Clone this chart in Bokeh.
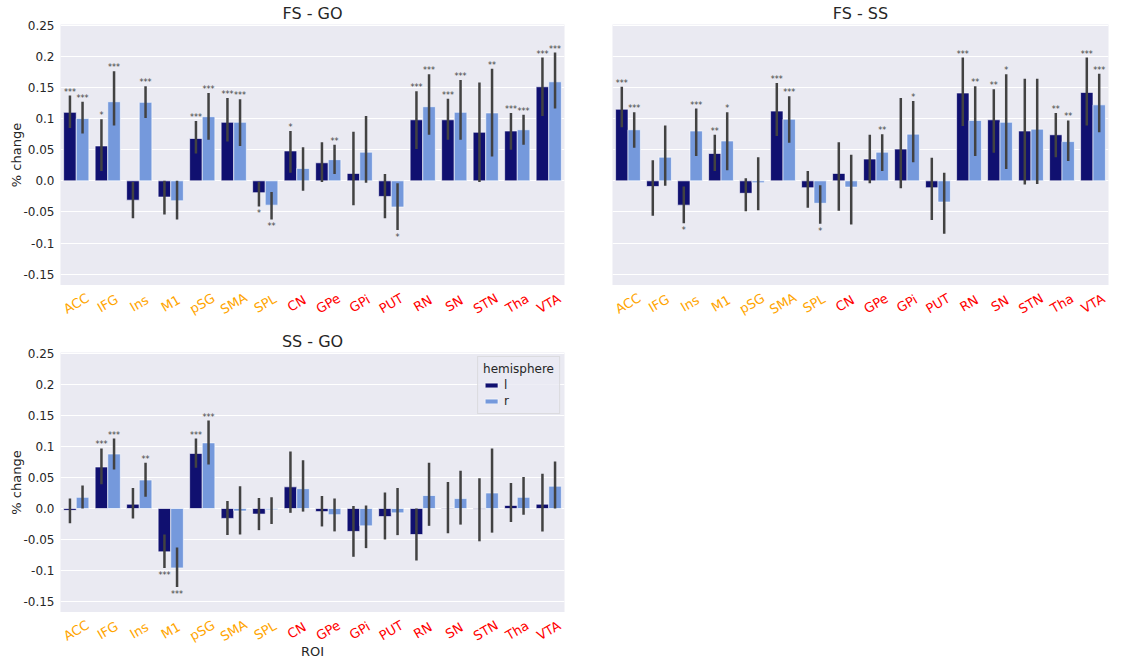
from bokeh.plotting import figure
from bokeh.models import (ColumnDataSource, FactorRange, Range1d, FixedTicker, Label,
                          Legend, LegendItem)
from bokeh.transform import dodge
from bokeh.layouts import column, row
from bokeh.embed import file_html
from bokeh.resources import INLINE
from bokeh.core.properties import value

# ---------------- data ----------------
rois = ["ACC", "IFG", "Ins", "M1", "pSG", "SMA", "SPL", "CN", "GPe", "GPi", "PUT",
        "RN", "SN", "STN", "Tha", "VTA"]
cortical = ["ACC", "IFG", "Ins", "M1", "pSG", "SMA", "SPL"]
hemispheres = ["l", "r"]

y_ticks = [-0.15, -0.1, -0.05, 0.0, 0.05, 0.1, 0.15, 0.2, 0.25]
y_tick_labels = ["-0.15", "-0.1", "-0.05", "0.0", "0.05", "0.1", "0.15", "0.2", "0.25"]

# FS - GO
fsgo_l = [0.110, 0.056, -0.031, -0.026, 0.068, 0.094, -0.019, 0.048, 0.029, 0.012, -0.025, 0.098, 0.098, 0.078, 0.080, 0.151]
fsgo_l_lo = [0.085, 0.016, -0.060, -0.054, 0.044, 0.063, -0.041, 0.013, -0.002, -0.039, -0.060, 0.051, 0.066, -0.002, 0.050, 0.104]
fsgo_l_hi = [0.137, 0.099, -0.002, 0.000, 0.096, 0.133, -0.002, 0.080, 0.062, 0.079, 0.011, 0.144, 0.132, 0.158, 0.109, 0.198]
fsgo_l_sig = ["***", "*", "", "", "***", "***", "*", "*", "", "", "", "***", "***", "", "***", "***"]
fsgo_r = [0.100, 0.127, 0.126, -0.032, 0.103, 0.094, -0.039, 0.020, 0.034, 0.046, -0.042, 0.119, 0.110, 0.109, 0.082, 0.159]
fsgo_r_lo = [0.076, 0.089, 0.101, -0.062, 0.066, 0.056, -0.062, -0.016, 0.011, -0.003, -0.079, 0.074, 0.066, 0.039, 0.058, 0.116]
fsgo_r_hi = [0.127, 0.176, 0.152, 0.000, 0.141, 0.131, -0.018, 0.054, 0.058, 0.104, -0.004, 0.171, 0.162, 0.180, 0.106, 0.206]
fsgo_r_sig = ["***", "***", "***", "", "***", "***", "**", "", "**", "", "*", "***", "***", "**", "***", "***"]

# FS - SS
fsss_l = [0.115, -0.009, -0.039, 0.044, -0.020, 0.112, -0.011, 0.012, 0.035, 0.051, -0.011, 0.141, 0.098, 0.080, 0.074, 0.142]
fsss_l_lo = [0.086, -0.056, -0.068, 0.016, -0.049, 0.072, -0.043, -0.048, -0.004, -0.012, -0.063, 0.088, 0.045, -0.006, 0.038, 0.089]
fsss_l_hi = [0.151, 0.033, -0.009, 0.074, 0.004, 0.157, 0.016, 0.062, 0.074, 0.133, 0.037, 0.198, 0.147, 0.164, 0.109, 0.198]
fsss_l_sig = ["***", "", "*", "**", "", "***", "", "", "", "", "", "***", "**", "", "**", "***"]
fsss_r = [0.082, 0.038, 0.080, 0.064, -0.003, 0.099, -0.036, -0.010, 0.046, 0.075, -0.034, 0.097, 0.094, 0.083, 0.063, 0.122]
fsss_r_lo = [0.053, -0.008, 0.040, 0.017, -0.047, 0.061, -0.069, -0.070, 0.016, 0.030, -0.085, 0.040, 0.019, -0.005, 0.032, 0.078]
fsss_r_hi = [0.110, 0.089, 0.116, 0.110, 0.038, 0.136, -0.007, 0.042, 0.075, 0.128, 0.013, 0.152, 0.171, 0.164, 0.097, 0.172]
fsss_r_sig = ["***", "", "***", "*", "", "***", "*", "", "**", "*", "", "**", "*", "", "**", "***"]

# SS - GO
ssgo_l = [-0.003, 0.067, 0.007, -0.070, 0.089, -0.016, -0.009, 0.035, -0.005, -0.037, -0.013, -0.042, 0.001, -0.001, 0.005, 0.007]
ssgo_l_lo = [-0.024, 0.039, -0.016, -0.096, 0.066, -0.043, -0.035, -0.007, -0.029, -0.078, -0.050, -0.084, -0.040, -0.053, -0.022, -0.037]
ssgo_l_hi = [0.016, 0.097, 0.033, -0.042, 0.113, 0.012, 0.017, 0.092, 0.020, 0.004, 0.026, 0.000, 0.043, 0.049, 0.041, 0.056]
ssgo_l_sig = ["", "***", "", "***", "***", "", "", "", "", "", "", "", "", "", "", ""]
ssgo_r = [0.018, 0.088, 0.046, -0.096, 0.106, -0.004, -0.002, 0.032, -0.010, -0.028, -0.007, 0.021, 0.016, 0.025, 0.018, 0.036]
ssgo_r_lo = [0.000, 0.063, 0.019, -0.127, 0.071, -0.042, -0.025, -0.005, -0.037, -0.064, -0.043, -0.028, -0.026, -0.039, -0.010, 0.000]
ssgo_r_hi = [0.037, 0.113, 0.074, -0.063, 0.142, 0.036, 0.018, 0.078, 0.016, 0.005, 0.033, 0.074, 0.061, 0.097, 0.051, 0.076]
ssgo_r_sig = ["", "***", "**", "***", "***", "", "", "", "", "", "", "", "", "", "", ""]

# ---------------- style ----------------
DARK = "#101070"
LIGHT = "#7599dc"
ERR = "#424242"
BG = "#EAEAF2"
TXT = "#262626"
FONT = "DejaVu Sans"
roi_colors = ["orange" if r in cortical else "red" for r in rois]


def make_panel(title, l, l_lo, l_hi, l_sig, r, r_lo, r_hi, r_sig,
               show_y=True, legend=False,
               fw=504, fh=261, mbl=60, mbr=28, ylim=(-0.168, 0.251)):
    p = figure(x_range=FactorRange(factors=rois), y_range=Range1d(*ylim),
               frame_width=fw, frame_height=fh, title=title,
               output_backend="svg", toolbar_location=None,
               min_border_left=mbl, min_border_right=mbr,
               min_border_top=0, min_border_bottom=0)
    p.background_fill_color = BG
    p.border_fill_color = "white"
    p.outline_line_color = None
    p.title.text_font = FONT
    p.title.text_font_size = "16px"
    p.title.text_font_style = "normal"
    p.title.text_color = TXT
    p.title.align = "center"
    p.title.standoff = 3

    p.xgrid.visible = False
    p.xaxis.visible = False
    p.ygrid.ticker = FixedTicker(ticks=y_ticks)
    p.ygrid.grid_line_color = "white"
    p.ygrid.grid_line_width = 1.2

    ya = p.yaxis[0]
    if show_y:
        ya.ticker = FixedTicker(ticks=y_ticks)
        ya.major_label_overrides = dict(zip(y_ticks, y_tick_labels))
        ya.major_label_text_font = FONT
        ya.major_label_text_font_size = "12px"
        ya.major_label_text_color = TXT
        ya.major_tick_line_color = None
        ya.minor_tick_line_color = None
        ya.major_tick_out = 0
        ya.major_label_standoff = 6
        ya.axis_line_color = None
        ya.axis_label = "% change"
        ya.axis_label_text_font = FONT
        ya.axis_label_text_font_size = "13px"
        ya.axis_label_text_font_style = "normal"
        ya.axis_label_text_color = TXT
        ya.axis_label_standoff = -4
    else:
        ya.visible = False

    src = ColumnDataSource(dict(roi=rois, l=l, r=r, l_lo=l_lo, l_hi=l_hi,
                                r_lo=r_lo, r_hi=r_hi))
    renderers = {}
    for hemi, off, col in (("l", -0.2, DARK), ("r", 0.2, LIGHT)):
        xd = dodge("roi", off, range=p.x_range)
        renderers[hemi] = p.vbar(x=xd, top=hemi, bottom=0, width=0.4, source=src,
                                 fill_color=col, line_color="white", line_width=0.6)
        p.segment(x0=xd, y0=hemi + "_lo", x1=xd, y1=hemi + "_hi", source=src,
                  line_color=ERR, line_width=2.5)

    # significance stars
    for means, lo, hi, sig, off in ((l, l_lo, l_hi, l_sig, -0.2), (r, r_lo, r_hi, r_sig, 0.2)):
        up = dict(roi=[], y=[], s=[])
        dn = dict(roi=[], y=[], s=[])
        for i, s in enumerate(sig):
            if not s:
                continue
            if means[i] >= 0:
                up["roi"].append(rois[i]); up["y"].append(hi[i]); up["s"].append(s)
            else:
                dn["roi"].append(rois[i]); dn["y"].append(lo[i]); dn["s"].append(s)
        xd = dodge("roi", off, range=p.x_range)
        if up["roi"]:
            p.text(x=xd, y="y", text="s", source=ColumnDataSource(up),
                   text_font=value(FONT), text_font_size="8px", text_color="#444444",
                   text_align="center", text_baseline="bottom", y_offset=1)
        if dn["roi"]:
            p.text(x=xd, y="y", text="s", source=ColumnDataSource(dn),
                   text_font=value(FONT), text_font_size="8px", text_color="#444444",
                   text_align="center", text_baseline="top", y_offset=3)

    if legend:
        lg = Legend(items=[LegendItem(label=hemispheres[0], renderers=[renderers["l"]]),
                           LegendItem(label=hemispheres[1], renderers=[renderers["r"]])],
                    title="hemisphere", location="top_right")
        lg.title_text_font = FONT
        lg.title_text_font_size = "12px"
        lg.title_text_font_style = "normal"
        lg.title_text_color = TXT
        lg.title_standoff = 2
        lg.label_text_font = FONT
        lg.label_text_font_size = "12px"
        lg.label_text_color = TXT
        lg.glyph_width = 16
        lg.glyph_height = 6
        lg.label_height = 14
        lg.spacing = 2
        lg.padding = 5
        lg.margin = 4
        lg.background_fill_color = BG
        lg.background_fill_alpha = 0.8
        lg.border_line_color = "#cccccc"
        p.add_layout(lg)
    return p


def make_strip(panel, fw=504, mbl=60, mbr=28, fh=43, xlabel=None):
    """Strip under a panel holding the coloured, rotated ROI tick labels."""
    s = figure(x_range=panel.x_range, y_range=Range1d(-fh, 0),
               frame_width=fw, frame_height=fh,
               output_backend="svg", toolbar_location=None,
               min_border_left=mbl, min_border_right=mbr,
               min_border_top=0, min_border_bottom=0)
    s.axis.visible = False
    s.grid.visible = False
    s.outline_line_color = None
    s.background_fill_color = "white"
    s.border_fill_color = "white"
    src = ColumnDataSource(dict(roi=rois, color=roi_colors))
    s.text(x="roi", y=-18, text="roi", source=src, text_color="color",
           angle=30, angle_units="deg", text_align="center", text_baseline="middle",
           text_font=value(FONT), text_font_size="13px")
    if xlabel:
        s.add_layout(Label(x=fw / 2, x_units="screen", y=-39, text=xlabel,
                           text_align="center", text_baseline="middle",
                           text_font=FONT, text_font_size="13px", text_color=TXT))
    return s


p1 = make_panel("FS - GO", fsgo_l, fsgo_l_lo, fsgo_l_hi, fsgo_l_sig,
                fsgo_r, fsgo_r_lo, fsgo_r_hi, fsgo_r_sig)
p2 = make_panel("FS - SS", fsss_l, fsss_l_lo, fsss_l_hi, fsss_l_sig,
                fsss_r, fsss_r_lo, fsss_r_hi, fsss_r_sig,
                show_y=False, fw=496, mbl=20, mbr=2)
p3 = make_panel("SS - GO", ssgo_l, ssgo_l_lo, ssgo_l_hi, ssgo_l_sig,
                ssgo_r, ssgo_r_lo, ssgo_r_hi, ssgo_r_sig,
                legend=True, fh=260, ylim=(-0.168, 0.252))

s1 = make_strip(p1)
s2 = make_strip(p2, fw=496, mbl=20, mbr=2)
s3 = make_strip(p3, fh=46, xlabel="ROI")

layout = column(row(column(p1, s1), column(p2, s2)), column(p3, s3))
open("out.html", "w").write(file_html(layout, INLINE))
